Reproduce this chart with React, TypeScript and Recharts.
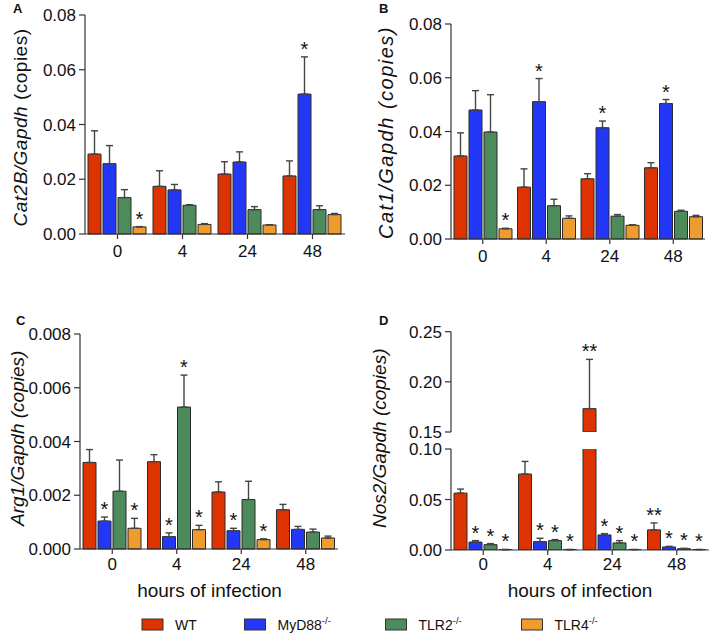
import React from 'react';
import { BarChart, Bar, XAxis, YAxis, ErrorBar, LabelList } from 'recharts';

const FONT = '"Liberation Sans", Arial, Helvetica, sans-serif';
const AXIS = '#333';

const hours = ['0', '4', '24', '48'];
const keys = ['wt', 'myd', 'tlr2', 'tlr4'];
const names = ['WT', 'MyD88', 'TLR2', 'TLR4'];
const supers = ['', '-/-', '-/-', '-/-'];
const colors = ['#DD3300', '#2238F6', '#4E8B5C', '#EE9C2D'];

type Series = Record<string, number[]>;
type Sig = Record<string, string[]>;

// A - Cat2B/Gapdh
const cat2bMean: Series = {
  wt: [0.0292, 0.0174, 0.0219, 0.0212],
  myd: [0.0257, 0.0161, 0.0263, 0.0511],
  tlr2: [0.0133, 0.0105, 0.0089, 0.0089],
  tlr4: [0.0026, 0.0035, 0.0033, 0.0071],
};
const cat2bSem: Series = {
  wt: [0.0085, 0.0057, 0.0045, 0.0055],
  myd: [0.0066, 0.002, 0.0037, 0.0136],
  tlr2: [0.0029, 0.0002, 0.0011, 0.0014],
  tlr4: [0.0001, 0.0003, 0.0001, 0.0004],
};
const cat2bSig: Sig = {
  wt: ['', '', '', ''],
  myd: ['', '', '', '*'],
  tlr2: ['', '', '', ''],
  tlr4: ['*', '', '', ''],
};

// B - Cat1/Gapdh
const cat1Mean: Series = {
  wt: [0.0309, 0.0193, 0.0224, 0.0265],
  myd: [0.048, 0.0511, 0.0414, 0.0504],
  tlr2: [0.0398, 0.0124, 0.0085, 0.0103],
  tlr4: [0.0038, 0.0077, 0.0051, 0.0083],
};
const cat1Sem: Series = {
  wt: [0.0086, 0.0068, 0.0019, 0.0019],
  myd: [0.0072, 0.0086, 0.0025, 0.0015],
  tlr2: [0.0139, 0.0024, 0.0006, 0.0004],
  tlr4: [0.0002, 0.0009, 0.0002, 0.0005],
};
const cat1Sig: Sig = {
  wt: ['', '', '', ''],
  myd: ['', '*', '*', '*'],
  tlr2: ['', '', '', ''],
  tlr4: ['*', '', '', ''],
};

// C - Arg1/Gapdh
const arg1Mean: Series = {
  wt: [0.00322, 0.00325, 0.00212, 0.00146],
  myd: [0.00104, 0.00046, 0.00068, 0.00073],
  tlr2: [0.00215, 0.00528, 0.00184, 0.00063],
  tlr4: [0.00077, 0.00072, 0.00035, 0.00041],
};
const arg1Sem: Series = {
  wt: [0.00048, 0.00026, 0.00038, 0.0002],
  myd: [0.00015, 0.00014, 0.00009, 0.00011],
  tlr2: [0.00116, 0.00119, 0.00068, 0.00011],
  tlr4: [0.00037, 0.00016, 0.00003, 0.00007],
};
const arg1Sig: Sig = {
  wt: ['', '', '', ''],
  myd: ['*', '*', '*', ''],
  tlr2: ['', '*', '', ''],
  tlr4: ['*', '*', '*', ''],
};

// D - Nos2/Gapdh (broken axis)
const nos2Mean: Series = {
  wt: [0.0563, 0.0752, 0.1733, 0.0199],
  myd: [0.0079, 0.0083, 0.0149, 0.003],
  tlr2: [0.0053, 0.0093, 0.007, 0.0013],
  tlr4: [0.0004, 0.0004, 0.0004, 0.0004],
};
const nos2Sem: Series = {
  wt: [0.004, 0.0125, 0.0491, 0.0069],
  myd: [0.0014, 0.0033, 0.0013, 0.0006],
  tlr2: [0.001, 0.001, 0.0023, 0.0004],
  tlr4: [0.0001, 0.0001, 0.0001, 0.0001],
};
const nos2Sig: Sig = {
  wt: ['', '', '**', '**'],
  myd: ['*', '*', '*', '*'],
  tlr2: ['*', '*', '*', '*'],
  tlr4: ['*', '*', '*', '*'],
};

const ticksA = [0, 0.02, 0.04, 0.06, 0.08];
const ticksC = [0, 0.002, 0.004, 0.006, 0.008];
const ticksDLow = [0, 0.05, 0.1];
const ticksDHigh = [0.15, 0.2, 0.25];

function makeRows(mean: Series, sem: Series, lo: number, hi: number) {
  return hours.map((h, i) => {
    const row: any = { hour: h };
    keys.forEach((k) => {
      const v = mean[k][i];
      row[k] = v >= lo ? v : null;
      row[k + 'Err'] = v >= lo && v <= hi ? [0, sem[k][i]] : null;
    });
    return row;
  });
}

type PanelProps = {
  x: number;
  y: number;
  w: number;
  h: number;
  plot: [number, number, number, number];
  rows: any[];
  sem: Series;
  sig: Sig;
  domain: [number, number];
  ticks: number[];
  digits: number;
  showX: boolean;
  tickGap?: number;
  overflow?: boolean;
};

function Panel(p: PanelProps) {
  const [pl, pt, pr, pb] = p.plot;
  const pxPer = (pb - pt) / (p.domain[1] - p.domain[0]);

  const sigContent = (k: string) => (props: any) => {
    // bars with null values may be dropped, so match the row by its value
    let idx = props.index;
    if (idx == null || !p.rows[idx] || p.rows[idx][k] !== props.value) {
      idx = p.rows.findIndex((r) => r[k] != null && r[k] === props.value);
    }
    if (idx == null || idx < 0) return null;
    const row = p.rows[idx];
    const s = p.sig[k][idx];
    if (!s || !row || row[k + 'Err'] == null) return null;
    const vb = props.viewBox || props;
    const top = pb - (row[k] + p.sem[k][idx] - p.domain[0]) * pxPer;
    return (
      <text
        key={k + idx}
        x={vb.x + vb.width / 2}
        y={top - 1}
        textAnchor="middle"
        fontSize={20}
        fontFamily={FONT}
        fill="#111"
      >
        {s}
      </text>
    );
  };

  return (
    <div style={{ position: 'absolute', left: p.x, top: p.y }}>
      <BarChart
        width={p.w}
        height={p.h}
        data={p.rows}
        margin={{ top: pt, right: p.w - pr, bottom: p.showX ? 0 : p.h - pb, left: 0 }}
        barCategoryGap={3}
        barGap={2}
      >
        <XAxis
          dataKey="hour"
          hide={!p.showX}
          height={p.h - pb}
          interval={0}
          tickSize={5}
          tickMargin={p.tickGap ?? 6}
          axisLine={{ stroke: AXIS, strokeWidth: 1.2 }}
          tickLine={{ stroke: AXIS, strokeWidth: 1.2 }}
          tick={{ fontSize: 17, fill: '#111', fontFamily: FONT }}
        />
        <YAxis
          width={pl}
          type="number"
          domain={p.domain}
          ticks={p.ticks}
          interval={0}
          allowDataOverflow={!!p.overflow}
          tickSize={6}
          tickMargin={3}
          tickFormatter={(v: number) => v.toFixed(p.digits)}
          axisLine={{ stroke: AXIS, strokeWidth: 1.2 }}
          tickLine={{ stroke: AXIS, strokeWidth: 1.2 }}
          tick={{ fontSize: 17, fill: '#111', fontFamily: FONT }}
        />
        {keys.map((k, i) => (
          <Bar
            key={k}
            dataKey={k}
            name={names[i]}
            fill={colors[i]}
            stroke="#2b2b2b"
            strokeWidth={1}
            isAnimationActive={false}
          >
            <ErrorBar
              dataKey={k + 'Err'}
              direction="y"
              width={3.5}
              stroke="#444"
              strokeWidth={1.4}
              isAnimationActive={false}
            />
            <LabelList dataKey={k} content={sigContent(k)} />
          </Bar>
        ))}
      </BarChart>
    </div>
  );
}

function YTitle({ x, y, parts, size = 19, spacing = 0 }: { x: number; y: number; parts: [string, boolean][]; size?: number; spacing?: number }) {
  return (
    <text
      transform={`translate(${x},${y}) rotate(-90)`}
      textAnchor="middle"
      fontSize={size}
      fontFamily={FONT}
      letterSpacing={spacing}
      fill="#111"
    >
      {parts.map(([t, it], i) => (
        <tspan key={i} fontStyle={it ? 'italic' : 'normal'}>
          {t}
        </tspan>
      ))}
    </text>
  );
}

const legendX = [142, 244.5, 385.5, 521.5];

export default function App() {
  const rowsA = makeRows(cat2bMean, cat2bSem, 0, 1);
  const rowsB = makeRows(cat1Mean, cat1Sem, 0, 1);
  const rowsC = makeRows(arg1Mean, arg1Sem, 0, 1);
  const rowsDLow = makeRows(nos2Mean, nos2Sem, 0, 0.1);
  const rowsDHigh = makeRows(nos2Mean, nos2Sem, 0.15, 0.25);

  return (
    <div
      style={{
        position: 'absolute',
        left: 0,
        top: 0,
        width: 714,
        height: 636,
        background: '#fff',
        overflow: 'hidden',
        fontFamily: FONT,
      }}
    >
      <Panel x={0} y={0} w={357} h={300} plot={[85, 15, 345, 234]} rows={rowsA} sem={cat2bSem} sig={cat2bSig}
        domain={[0, 0.08]} ticks={ticksA} digits={2} showX tickGap={6} />
      <Panel x={357} y={0} w={357} h={300} plot={[94, 24, 348, 239]} rows={rowsB} sem={cat1Sem} sig={cat1Sig}
        domain={[0, 0.08]} ticks={ticksA} digits={2} showX tickGap={6} />
      <Panel x={0} y={300} w={357} h={300} plot={[80, 34, 338, 249]} rows={rowsC} sem={arg1Sem} sig={arg1Sig}
        domain={[0, 0.008]} ticks={ticksC} digits={3} showX tickGap={4} />
      <Panel x={357} y={440} w={357} h={160} plot={[94, 9, 352, 110]} rows={rowsDLow} sem={nos2Sem} sig={nos2Sig}
        domain={[0, 0.1]} ticks={ticksDLow} digits={2} showX tickGap={3} overflow />
      <Panel x={357} y={320} w={357} h={130} plot={[94, 11.7, 352, 112]} rows={rowsDHigh} sem={nos2Sem} sig={nos2Sig}
        domain={[0.15, 0.25]} ticks={ticksDHigh} digits={2} showX={false} overflow />

      <svg
        width={714}
        height={636}
        style={{ position: 'absolute', left: 0, top: 0, pointerEvents: 'none' }}
      >
        <g fontFamily={FONT} fontWeight="bold" fontSize={13} fill="#111">
          <text x={13} y={13}>A</text>
          <text x={379} y={13}>B</text>
          <text x={16} y={325}>C</text>
          <text x={379} y={325}>D</text>
        </g>
        <YTitle x={27} y={127.5} spacing={0.5} parts={[['Cat2B/Gapdh', true], [' (copies)', false]]} />
        <YTitle x={393} y={132.5} size={20} spacing={1.5} parts={[['Cat1/Gapdh (copies)', true]]} />
        <YTitle x={23.6} y={438.3} parts={[['Arg1/Gapdh (copies)', true]]} />
        <YTitle x={385.6} y={438.3} parts={[['Nos2/Gapdh (copies)', true]]} />
        <g fontFamily={FONT} fontSize={19} fill="#111" textAnchor="middle">
          <text x={209.5} y={596.5}>hours of infection</text>
          <text x={580} y={596.5}>hours of infection</text>
        </g>
        {names.map((n, i) => (
          <g key={n}>
            <rect x={legendX[i]} y={619} width={21} height={11} fill={colors[i]} stroke="#333" strokeWidth={1} />
            <text x={legendX[i] + 33} y={629.5} fontFamily={FONT} fontSize={14} fill="#111">
              {n}
              {supers[i] && (
                <tspan dy={-6} fontSize={9.5}>
                  {supers[i]}
                </tspan>
              )}
            </text>
          </g>
        ))}
      </svg>
    </div>
  );
}
